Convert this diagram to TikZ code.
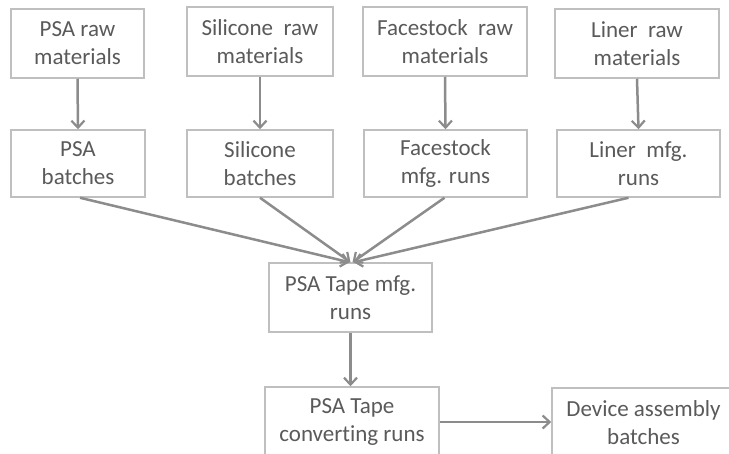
\documentclass[tikz,border=0pt]{standalone}
\usepackage{fontspec}
\setmainfont[Ligatures=NoCommon]{Carlito}
\usetikzlibrary{arrows.meta,calc}
\definecolor{txtgray}{HTML}{5A5A5A}
\definecolor{boxgray}{HTML}{BFBFBF}
\definecolor{arrgray}{HTML}{8C8C8C}
\tikzset{
  box/.style={draw=boxgray, line width=1.5pt, fill=white, align=center, text=txtgray,
    font=\fontsize{23}{28}\selectfont, inner sep=0pt},
  flow/.style={draw=arrgray, line width=2.5pt, -{Straight Barb[length=7pt,width=13pt,line width=2.2pt]}}
}
\begin{document}
\begin{tikzpicture}[x=1pt,y=-1pt]
\clip (0,0) rectangle (729,453);
\fill[white] (0,0) rectangle (729,453);
% row 1
\node[box, minimum width=133pt, minimum height=69pt] (r1) at (77.5,43.5) {PSA raw\\materials};
\node[box, minimum width=146pt, minimum height=69pt] (r2) at (260,41.5) {Silicone\ \ raw\\materials};
\node[box, minimum width=164pt, minimum height=69pt] (r3) at (445,41.5) {Facestock\ \ raw\\materials};
\node[box, minimum width=164pt, minimum height=69pt] (r4) at (637,43.5) {Liner\ \ raw\\materials};
% row 2
\node[box, minimum width=134pt, minimum height=67pt] (b1) at (78,163.5) {PSA\\batches};
\node[box, minimum width=146pt, minimum height=67pt] (b2) at (260,163.5) {Silicone\\batches};
\node[box, minimum width=163pt, minimum height=67pt] (b3) at (445.5,163.5) {Facestock\\mfg. runs};
\node[box, minimum width=163pt, minimum height=67pt] (b4) at (638.5,163.5) {Liner\ \ mfg.\\runs};
% middle
\node[box, minimum width=163pt, minimum height=69pt] (tape) at (350.5,297.5) {PSA Tape mfg.\\runs};
% bottom
\node[box, minimum width=174pt, minimum height=70pt] (conv) at (352,422) {PSA Tape\\converting runs};
\node[box, minimum width=183pt, minimum height=70pt] (dev) at (643.5,423) {Device assembly\\batches};
% arrows
\draw[flow] (r1.south) -- (b1.north);
\draw[flow] (r2.south) -- (b2.north);
\draw[flow] (r3.south) -- (b3.north);
\draw[flow] (r4.south) -- (b4.north);
\draw[flow] ($(b1.south)+(2,0)$) -- ($(tape.north)+(-1,0)$);
\draw[flow] (b2.south) -- ($(tape.north)+(0,0)$);
\draw[flow] ($(b3.south)+(-1,0)$) -- ($(tape.north)+(2,0)$);
\draw[flow] ($(b4.south)+(-10,0)$) -- ($(tape.north)+(3,0)$);
\draw[flow] (tape.south) -- (tape.south |- conv.north);
\draw[flow] (conv.east) -- (conv.east -| dev.west);
\end{tikzpicture}
\end{document}
